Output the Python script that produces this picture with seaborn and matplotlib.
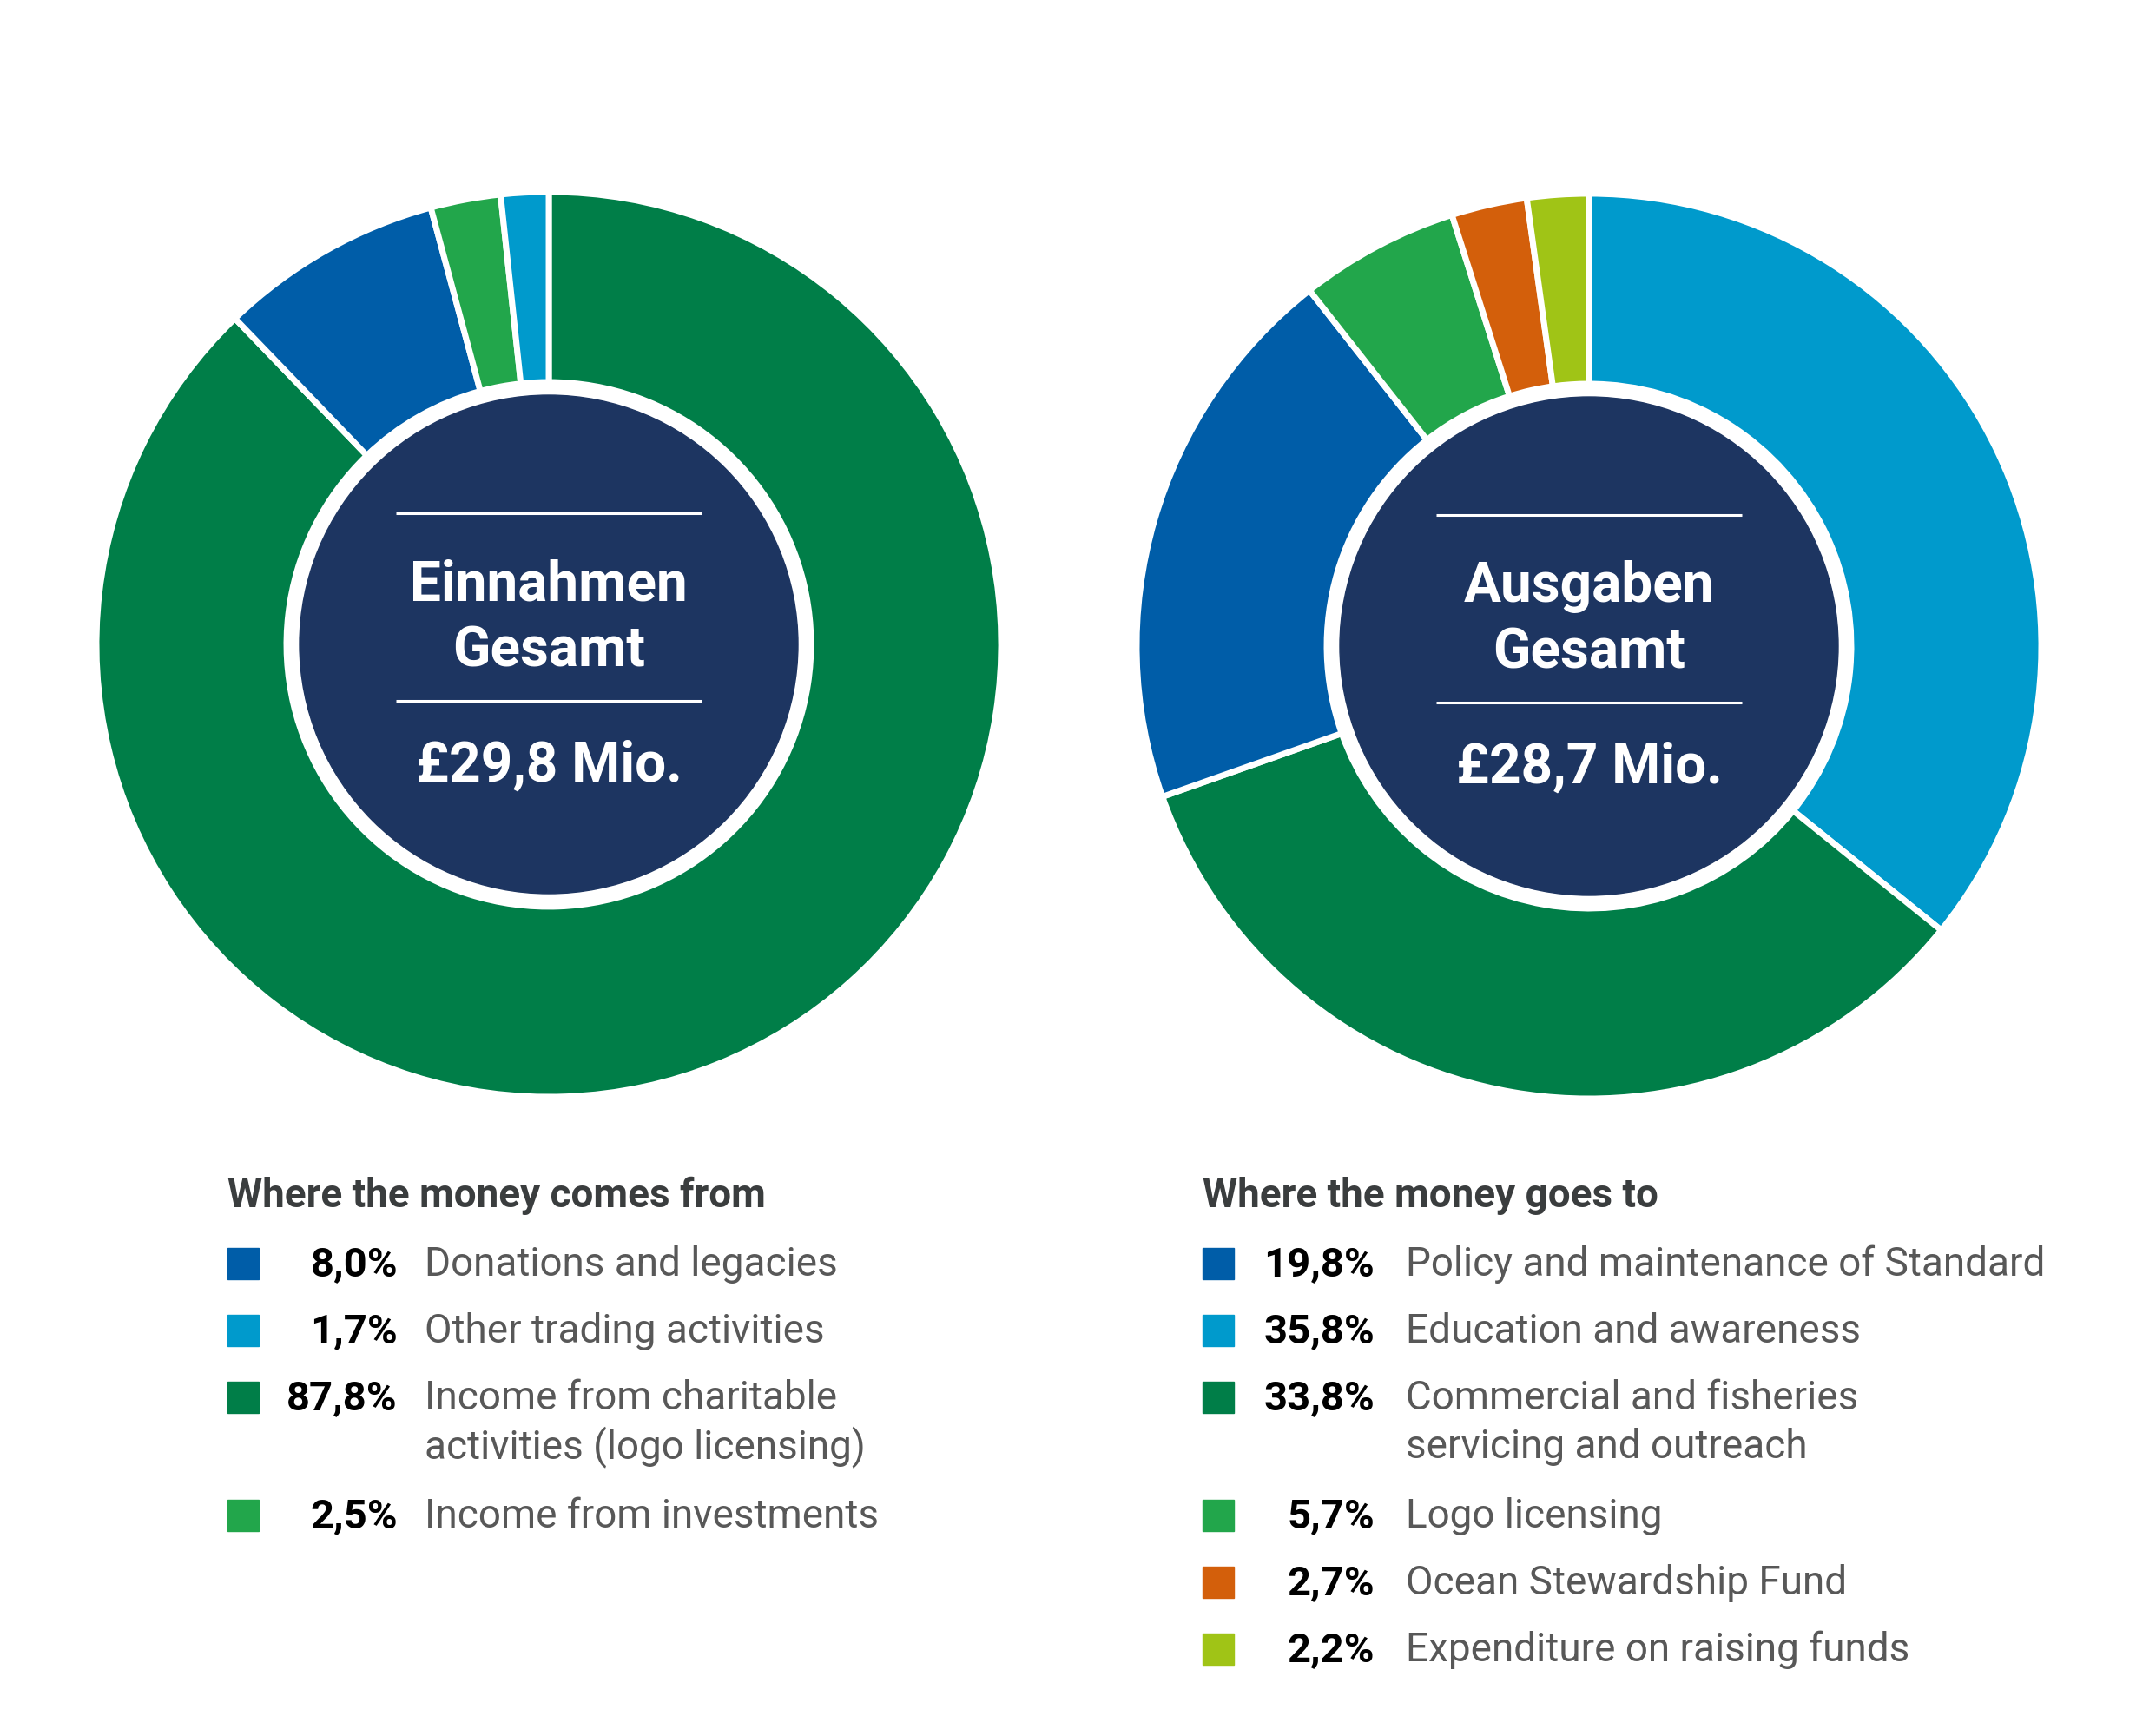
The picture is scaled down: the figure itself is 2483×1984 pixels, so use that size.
import numpy as np
import pandas as pd
import matplotlib
matplotlib.use("Agg")
import matplotlib.pyplot as plt
import seaborn as sns

# Datos (orden de la leyenda)
ingresos_labels = ["Donations and legacies", "Other trading activities",
                   "Income from charitable\nactivities (logo licensing)",
                   "Income from investments"]
ingresos_values = [8.0, 1.7, 87.8, 2.5]
ingresos_colors = ["#005DA8", "#009ACC", "#007E48", "#22A64B"]
ingresos_pie_order = [2, 0, 3, 1]

gastos_labels = ["Policy and maintenance of Standard", "Education and awareness",
                 "Commercial and fisheries\nservicing and outreach",
                 "Logo licensing", "Ocean Stewardship Fund",
                 "Expenditure on raising funds"]
gastos_values = [19.8, 35.8, 33.8, 5.7, 2.7, 2.2]
gastos_colors = ["#005DA8", "#009ACC", "#007E48", "#22A64B", "#D35F0B", "#A0C416"]
gastos_pie_order = [1, 2, 0, 3, 4, 5]

titulos = [["Einnahmen", "Gesamt"], ["Ausgaben", "Gesamt"]]
totales = ["£29,8 Mio.", "£28,7 Mio."]
leyenda_titulos = ["Where the money comes from", "Where the money goes to"]

# Estilo
sns.set_theme(style="white")
plt.rcParams['font.family'] = ['Roboto', 'DejaVu Sans']

W, H = 2483, 1984
fig = plt.figure(figsize=(W / 100, H / 100), dpi=100)
ax = fig.add_axes([0, 0, 1, 1])

NAVY = "#1D3561"
R_OUT = 521
R_IN = 302
R_DARK = 287

donas = [
    (632, 742, ingresos_values, ingresos_colors, ingresos_pie_order),
    (1830, 744, gastos_values, gastos_colors, gastos_pie_order),
]

for k, (cx, cy_top, vals, cols, orden) in enumerate(donas):
    cy = H - cy_top
    v = [vals[i] for i in orden]
    c = [cols[i] for i in orden]
    ax.pie(v, colors=c, startangle=90, counterclock=False,
           radius=R_OUT, center=(cx, cy),
           wedgeprops=dict(width=R_OUT - R_IN, edgecolor="white", linewidth=5))
    ax.add_patch(plt.Circle((cx, cy), R_DARK, color=NAVY, zorder=3))
    # lineas blancas
    for dy in [-151, 65]:
        ax.plot([cx - 176, cx + 176], [cy - dy, cy - dy], color="white",
                lw=2.2, zorder=4, solid_capstyle="butt")
    ax.text(cx, cy + 742 - 691, titulos[k][0], color="white", fontsize=46,
            fontweight="bold", ha="center", va="baseline", zorder=5)
    ax.text(cx, cy + 742 - 767, titulos[k][1], color="white", fontsize=46,
            fontweight="bold", ha="center", va="baseline", zorder=5)
    ax.text(cx, cy + 742 - 900, totales[k], color="white", fontsize=46,
            fontweight="bold", ha="center", va="baseline", zorder=5)

# Leyendas
leyendas = [
    (262, 458, 489, ingresos_labels, ingresos_values, ingresos_colors),
    (1385, 1583, 1619, gastos_labels, gastos_values, gastos_colors),
]
FS = 33
for k, (x_sq, x_pct, x_lab, labs, vals, cols) in enumerate(leyendas):
    ax.text(x_sq, H - 1390, leyenda_titulos[k], fontsize=FS, fontweight="bold",
            color="#3A3D3E", ha="left", va="baseline")
    base = 1469
    for lab, val, col in zip(labs, vals, cols):
        y = H - base
        ax.add_patch(plt.Rectangle((x_sq, y - 4), 36, 36, color=col))
        pct = f"{val:.1f}%".replace(".", ",")
        ax.text(x_pct, y, pct, fontsize=FS + 1, fontweight="bold", color="black",
                ha="right", va="baseline")
        lineas = lab.split("\n")
        for j, linea in enumerate(lineas):
            ax.text(x_lab, y - j * 56, linea, fontsize=FS, fontweight="normal",
                    color="#585858", ha="left", va="baseline")
        base += 77 + (len(lineas) - 1) * 59

ax.set_xlim(0, W)
ax.set_ylim(0, H)
ax.set_aspect("equal")
ax.axis("off")

fig.savefig("out.png", dpi=100, facecolor="white")
